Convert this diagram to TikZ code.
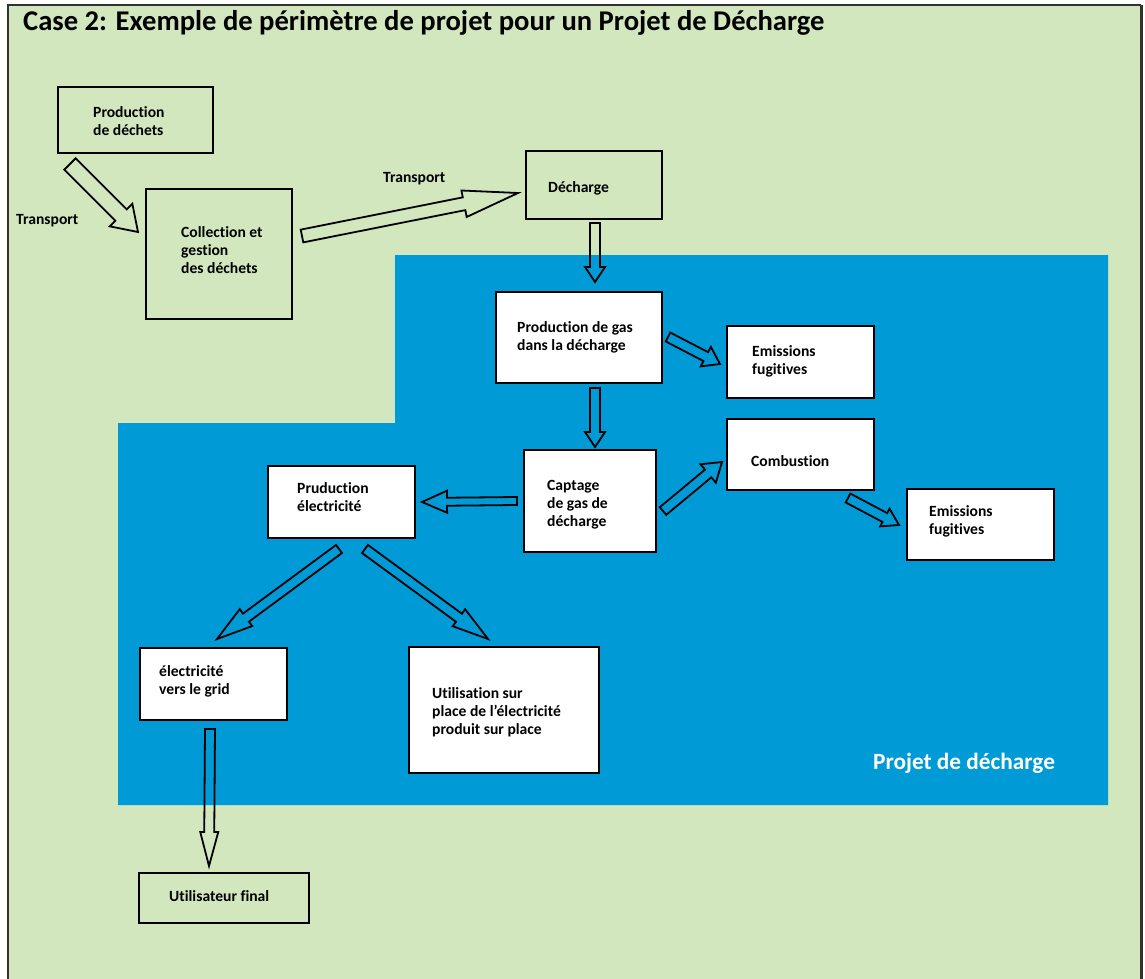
\documentclass[tikz,border=0pt]{standalone}
\usepackage{fontspec}
\setmainfont{Carlito}[Ligatures=NoCommon]
\usetikzlibrary{calc}
\definecolor{bggreen}{RGB}{210,231,190}
\definecolor{projblue}{RGB}{0,154,214}
\definecolor{framegray}{RGB}{50,50,50}
\tikzset{
  box/.style={draw=black, line width=1.8pt, anchor=north west, inner sep=0pt},
  whitebox/.style={box, fill=white},
  lbl/.style={anchor=north west, inner sep=0pt, align=left, font=\fontsize{15.6}{18.2}\selectfont\bfseries},
  barrow/.style={draw=black, line width=1.8pt, line join=miter},
}
\newcommand\lstrut{\rule{0pt}{12pt}}
\newcommand\blockarrow[5]{%
  \path ($(#2)!#5!(#1)$) coordinate (bah);
  \draw[barrow] ($(#1)!#3!90:(#2)$) -- ($(bah)!#3!-90:(#1)$) -- ($(bah)!#4!-90:(#1)$) -- (#2)
     -- ($(bah)!#4!90:(#1)$) -- ($(bah)!#3!90:(#1)$) -- ($(#1)!#3!-90:(#2)$) -- cycle;
}
\begin{document}
\begin{tikzpicture}[x=1pt,y=-1pt]
\useasboundingbox (0,0) rectangle (1145,979);
% frame and background
\fill[white] (0,0) rectangle (1145,979);
\fill[bggreen] (8,5) rectangle (1141,979);
\draw[framegray, line width=2pt] (8,979) -- (8,5) -- (1141,5);
\draw[framegray, line width=3pt] (1141,5) -- (1141,979);
% project area
\fill[projblue] (395,255) -- (1108,255) -- (1108,805) -- (118,805) -- (118,423) -- (395,423) -- cycle;
% title
\node[anchor=base west, inner sep=0pt, font=\fontsize{28.6}{32}\selectfont\bfseries] (title) at (23,31)
  {Case 2: Exemple de périmètre de projet pour un Projet de Décharge};
\node[anchor=base west, inner sep=0pt, text=white, font=\fontsize{23.3}{27}\selectfont\bfseries] (proj) at (873,769)
  {Projet de décharge};
% boxes
\node[box, minimum width=155pt, minimum height=66pt] (prod) at (57,86) {};
\node[box, minimum width=146pt, minimum height=130pt] (coll) at (145,188) {};
\node[box, minimum width=136pt, minimum height=68pt] (dech) at (525,150) {};
\node[whitebox, minimum width=166pt, minimum height=91pt] (gas) at (495,291) {};
\node[whitebox, minimum width=147pt, minimum height=72pt] (emi1) at (726,325) {};
\node[whitebox, minimum width=147pt, minimum height=71pt] (comb) at (726,418) {};
\node[whitebox, minimum width=147pt, minimum height=71pt] (emi2) at (906,488) {};
\node[whitebox, minimum width=132pt, minimum height=102pt] (capt) at (523,449) {};
\node[whitebox, minimum width=147pt, minimum height=72pt] (elec) at (267,465) {};
\node[whitebox, minimum width=147pt, minimum height=72pt] (grid) at (139,647) {};
\node[whitebox, line width=2.4pt, minimum width=190pt, minimum height=126pt] (util) at (408,646) {};
\node[box, minimum width=170pt, minimum height=50pt] (final) at (138,872) {};
% labels
\node[lbl] (prodt) at (93,105) {\lstrut Production\\de déchets};
\node[lbl] (collt) at (181,225) {\lstrut Collection et\\gestion\\des déchets};
\node[lbl] (decht) at (548,180) {\lstrut Décharge};
\node[lbl] (gast) at (517,320) {\lstrut Production de gas\\dans la décharge};
\node[lbl] (emi1t) at (752,344) {\lstrut Emissions\\fugitives};
\node[lbl] (combt) at (751,454) {\lstrut Combustion};
\node[lbl] (emi2t) at (929,504) {\lstrut Emissions\\fugitives};
\node[lbl] (captt) at (547,478) {\lstrut Captage\\de gas de\\décharge};
\node[lbl] (elect) at (297,481) {\lstrut Pruduction\\électricité};
\node[lbl] (gridt) at (159,664) {\lstrut électricité\\vers le grid};
\node[lbl] (utilt) at (432,686) {\lstrut Utilisation sur\\place de l’électricité\\produit sur place};
\node[lbl] (finalt) at (169,889) {\lstrut Utilisateur final};
\node[lbl] (tr1) at (16,212) {\lstrut Transport};
\node[lbl] (tr2) at (383,170) {\lstrut Transport};
% arrow end points
\coordinate (a1s) at (70,164);  \coordinate (a1e) at (138,232);
\coordinate (a2s) at (302,236); \coordinate (a2e) at (518,193);
\coordinate (a3s) at (595,223); \coordinate (a3e) at (595,282);
\coordinate (a4s) at (668,337); \coordinate (a4e) at (720,364);
\coordinate (a5s) at (595,388); \coordinate (a5e) at (595,447);
\coordinate (a6s) at (517,501); \coordinate (a6e) at (422,502);
\coordinate (a7s) at (663,511); \coordinate (a7e) at (722,462);
\coordinate (a8s) at (848,498); \coordinate (a8e) at (899,525);
\coordinate (a9s) at (339,549); \coordinate (a9e) at (217,639);
\coordinate (a10s) at (365,549); \coordinate (a10e) at (488,639);
\coordinate (a11s) at (210,729); \coordinate (a11e) at (209,866);
% block arrows
\blockarrow{a1s}{a1e}{8pt}{16pt}{24pt}
\blockarrow{a2s}{a2e}{6.5pt}{13.5pt}{55pt}
\blockarrow{a3s}{a3e}{5pt}{10pt}{15pt}
\blockarrow{a4s}{a4e}{5pt}{11pt}{16pt}
\blockarrow{a5s}{a5e}{5pt}{10pt}{15pt}
\blockarrow{a6s}{a6e}{4pt}{11pt}{25pt}
\blockarrow{a7s}{a7e}{5pt}{12pt}{18pt}
\blockarrow{a8s}{a8e}{5pt}{10pt}{16pt}
\blockarrow{a9s}{a9e}{5pt}{10.5pt}{36pt}
\blockarrow{a10s}{a10e}{5pt}{10.5pt}{36pt}
\blockarrow{a11s}{a11e}{5pt}{9pt}{34pt}
\end{tikzpicture}
\end{document}
